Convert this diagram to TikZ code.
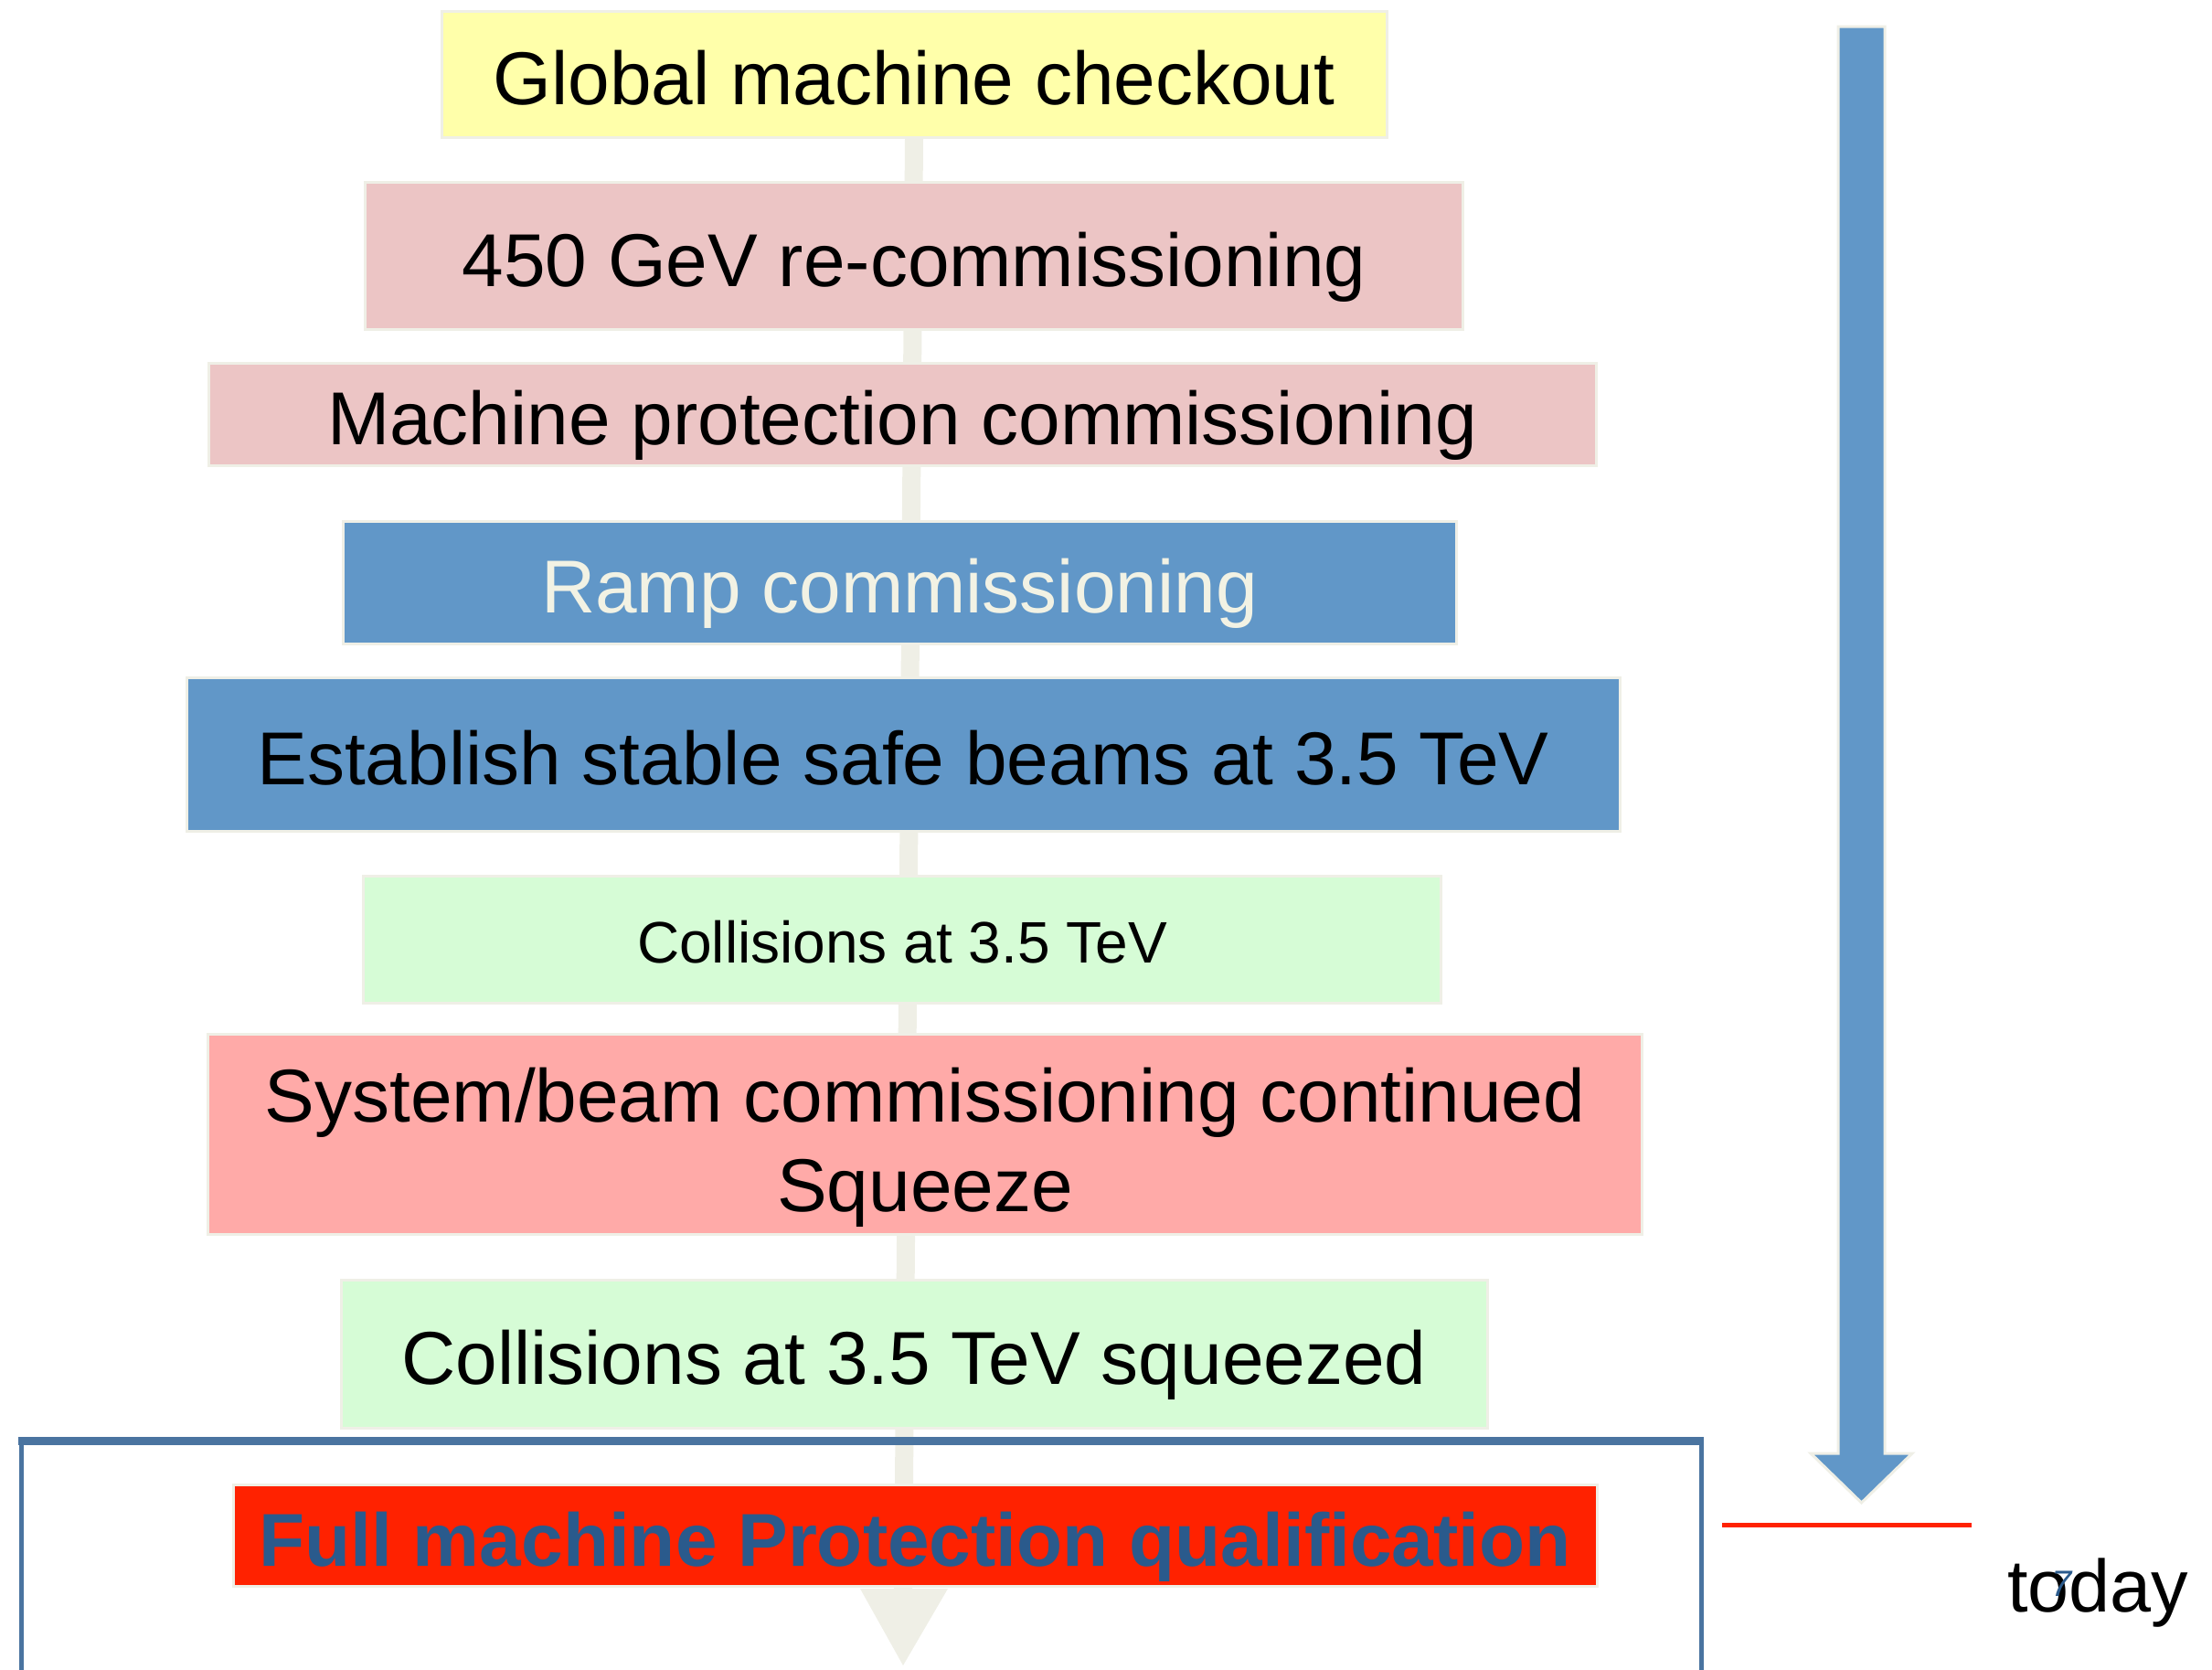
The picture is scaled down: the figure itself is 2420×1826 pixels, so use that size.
\documentclass[tikz,border=0pt]{standalone}
\usepackage{fontspec}
\setmainfont{Liberation Sans}
\usetikzlibrary{backgrounds}
\definecolor{cyellow}{HTML}{FFFFAA}
\definecolor{cpink}{HTML}{ECC5C5}
\definecolor{cblue}{HTML}{6197C8}
\definecolor{cgreen}{HTML}{D6FCD6}
\definecolor{csalmon}{HTML}{FFAAA8}
\definecolor{cred}{HTML}{FF2200}
\definecolor{cbeige}{HTML}{EFEFE6}
\definecolor{cframe}{HTML}{4A74A0}
\definecolor{ctext}{HTML}{2A5A8C}
\definecolor{ccream}{HTML}{F2F2E4}
\tikzset{
  stagebox/.style={draw=cbeige, line width=3pt, inner sep=0pt, align=center,
    font=\fontsize{82}{98}\selectfont, text height=70pt, text depth=4pt},
  conn/.style={draw=cbeige, line width=20pt},
}
\begin{document}
\begin{tikzpicture}[x=1pt,y=-1pt]
\useasboundingbox (0,0) rectangle (2420,1826);
% stages
\node[stagebox, fill=cyellow, minimum width=1034, minimum height=138] (n1) at (1000,81) {Global machine checkout};
\node[stagebox, fill=cpink, minimum width=1201, minimum height=161] (n2) at (1000,280) {450 GeV re-commissioning};
\node[stagebox, fill=cpink, minimum width=1518, minimum height=112] (n3) at (987,453) {Machine protection commissioning};
\node[stagebox, fill=cblue, text=ccream, minimum width=1218, minimum height=134] (n4) at (984,637) {Ramp commissioning};
\node[stagebox, fill=cblue, minimum width=1568, minimum height=168] (n5) at (988,825) {Establish stable safe beams at 3.5 TeV};
\node[stagebox, fill=cgreen, minimum width=1179, minimum height=139, font=\fontsize{64}{77}\selectfont, text height=54pt, text depth=3pt] (n6) at (987,1028) {Collisions at 3.5 TeV};
\node[stagebox, fill=csalmon, minimum width=1569, minimum height=219, text height=170pt, text depth=2pt] (n7) at (1012,1241) {System/beam commissioning continued\\Squeeze};
\node[stagebox, fill=cgreen, minimum width=1254, minimum height=162] (n8) at (1000,1481) {Collisions at 3.5 TeV squeezed};
\node[stagebox, fill=cred, text=ctext, minimum width=1492, minimum height=111, font=\fontsize{82}{98}\selectfont\bfseries] (n9) at (1001,1680) {Full machine Protection qualification};
\coordinate (tip) at (988,1822);
\begin{scope}[on background layer]
  \draw[conn] (n1.south) -- (988,1760);
  \fill[cbeige] (941,1738) -- (1037,1738) -- (tip) -- cycle;
\end{scope}
% frame
\draw[cframe, line width=5pt] (23,1840) -- (23,1577) -- (1861,1577) -- (1861,1840);
\draw[cframe, line width=9pt] (20,1576) -- (1864,1576);
% timeline arrow
\draw[cbeige, line width=3pt, fill=cblue] (2011,29) -- (2062,29) -- (2062,1590) -- (2092,1590) -- (2036.5,1644) -- (1981,1590) -- (2011,1590) -- cycle;
\coordinate (redL) at (1884,1668);
\coordinate (redR) at (2157,1668);
\draw[cred, line width=5pt] (redL) -- (redR);
\node[font=\fontsize{81}{97}\selectfont, anchor=base west, inner sep=0pt] (today) at (2196,1763) {today};
\node[font=\fontsize{40}{48}\selectfont\itshape, text=ctext, inner sep=0pt] (seven) at (2256,1733) {7};
\end{tikzpicture}
\end{document}
